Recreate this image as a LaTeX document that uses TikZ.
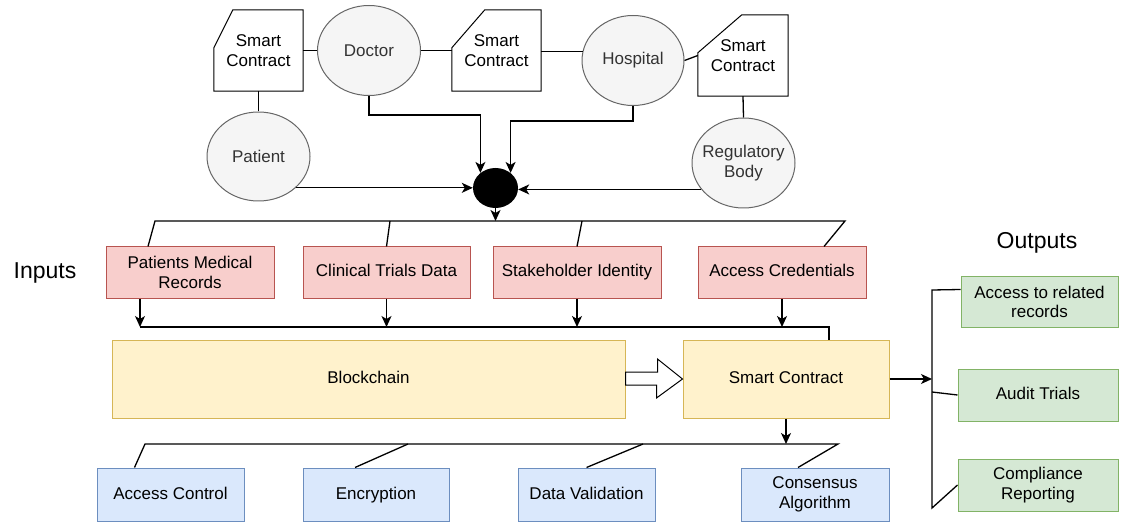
\documentclass[tikz,border=0pt]{standalone}
\usepackage{fontspec}
\setmainfont{Liberation Sans}
\usetikzlibrary{arrows.meta,shapes.geometric}

\definecolor{inFill}{HTML}{F8CECC}
\definecolor{inLine}{HTML}{B85450}
\definecolor{chFill}{HTML}{FFF2CC}
\definecolor{chLine}{HTML}{D6B656}
\definecolor{tlFill}{HTML}{DAE8FC}
\definecolor{tlLine}{HTML}{6C8EBF}
\definecolor{outFill}{HTML}{D5E8D4}
\definecolor{outLine}{HTML}{82B366}
\definecolor{actFill}{HTML}{F5F5F5}
\definecolor{actLine}{HTML}{666666}

% outline of a contract card, top left corner cut off
\newcommand{\cardline}[2]{%
  \draw[line width=1pt] ([yshift=-38pt]#1.north west) -- ([xshift=#2]#1.north west)
    -- (#1.north east) -- (#1.south east) -- (#1.south west) -- cycle;}

\begin{document}
\begin{tikzpicture}[x=1pt, y=-1pt, >={Stealth[length=11pt,width=10pt,inset=3pt]},
  every node/.style={font=\fontsize{17}{19.5}\selectfont, align=center, inner sep=2pt},
  oneline/.style={text height=12.5pt, text depth=3.5pt},
  link/.style={line width=1.3pt},
  card/.style={minimum width=89pt, minimum height=81pt},
  actor/.style={ellipse, draw=actLine, fill=actFill, line width=1pt, text=black!80,
    inner xsep=-8pt, inner ysep=0pt, minimum width=103pt, minimum height=90pt},
  hub/.style={ellipse, fill=black, minimum width=45pt, minimum height=40pt, inner sep=0pt},
  inbox/.style={draw=inLine, fill=inFill, line width=1pt, minimum width=168pt, minimum height=51pt},
  corebox/.style={draw=chLine, fill=chFill, line width=1pt, minimum height=78pt, oneline},
  toolbox/.style={draw=tlLine, fill=tlFill, line width=1pt, minimum height=53pt},
  outbox/.style={draw=outLine, fill=outFill, line width=1pt, minimum width=160pt, minimum height=52pt},
  side/.style={font=\fontsize{23}{26}\selectfont}]
  \useasboundingbox (0,0) rectangle (1123,526);

  % stakeholders and their contracts
  \node[card] (sc1) at (258.5,50.5) {Smart\\Contract};
  \node[actor] (doc) at (369,50.5) {Doctor};
  \node[card] (sc2) at (496.5,50.5) {Smart\\Contract};
  \node[actor, minimum width=102pt] (hosp) at (633,60.5) {Hospital};
  \node[card, minimum width=90pt] (sc3) at (743,55.5) {Smart\\Contract};
  \node[actor, minimum height=89pt] (pat) at (258.5,156.5) {Patient};
  \node[actor] (reg) at (743.5,163) {Regulatory\\Body};
  \node[hub] (hub) at (495.5,188) {};
  \cardline{sc1}{19pt}
  \cardline{sc2}{33pt}
  \cardline{sc3}{44pt}

  \draw[link] (sc1.east) -- (doc.west);
  \draw[link] (doc.east) -- (sc2.west);
  \draw[link] (sc2.east |- hosp.170) -- (hosp.170);
  \draw[link] (hosp.east) -- (sc3.west);
  \draw[link] (sc1.south) -- (pat.north);
  \draw[link] (sc3.south) -- (reg.north);

  \draw[link,->] (doc.south) -- ++(0,19) -| (hub.135);
  \draw[link,->] (hosp.south) -- ++(0,15) -| (hub.45);
  \draw[link,->] (pat.-40) -- (pat.-40 -| hub.west);
  \draw[link,->] (reg.212) -- (reg.212 -| hub.east);

  % inputs
  \node[side] (inlbl) at (45,273) {Inputs};
  \node[inbox] (pmr) at (190,272.5) {Patients Medical\\Records};
  \node[inbox, oneline, minimum width=167pt] (ctd) at (386.5,272.5) {Clinical Trials Data};
  \node[inbox, oneline] (sid) at (577,272.5) {Stakeholder Identity};
  \node[inbox, oneline] (acr) at (782,272.5) {Access Credentials};

  \coordinate (inL) at (155,221);
  \coordinate (inR) at (845,221);
  \coordinate (in2) at (390,221);
  \coordinate (in3) at (582,221);
  \draw[link,->] (hub.south) -- (hub.south |- inL);
  \draw[link] ([xshift=-42pt]pmr.north) -- (inL) -- (inR) -- ([xshift=42pt]acr.north);
  \draw[link] (ctd.north) -- (in2);
  \draw[link] (sid.north) -- (in3);

  % blockchain and the contract layer
  \node[corebox, minimum width=513pt] (chain) at (368.5,379) {Blockchain};
  \node[corebox, minimum width=206pt] (smart) at (786,379) {Smart Contract};

  \coordinate (chL) at (140,327);
  \coordinate (chR) at (829,327);
  \draw[link,->] ([xshift=-50pt]pmr.south) -- (chL);
  \draw[link,->] (ctd.south) -- (ctd.south |- chL);
  \draw[link,->] (sid.south) -- (sid.south |- chL);
  \draw[link,->] (acr.south) -- (acr.south |- chL);
  \draw[link] (chL) -- (chR) -- (chR |- smart.north);

  \draw[line width=1pt, fill=white] ([yshift=7pt]chain.east) -- ++(32,0) -- ++(0,-13)
    -- (smart.west) -- ++(-26,19) -- ++(0,-13) -- ([yshift=-6pt]chain.east) -- cycle;

  % outputs
  \node[side] (outlbl) at (1037,243) {Outputs};
  \node[outbox, minimum width=157pt, minimum height=50pt] (rel) at (1039.5,302) {Access to related\\records};
  \node[outbox, oneline] (aud) at (1038,395) {Audit Trials};
  \node[outbox] (comp) at (1038,485) {Compliance\\Reporting};

  \coordinate (outT) at (932,290);
  \coordinate (outB) at (932,508);
  \coordinate (out2) at (932,392);
  \draw[link,->] (smart.east) -- (smart.east -| outT);
  \draw[link] ([yshift=-13pt]rel.north west) -- (outT) -- (outB) -- (comp.west);
  \draw[link] (out2) -- (aud.west);

  % security functions
  \node[toolbox, oneline, minimum width=147pt] (acc) at (170.5,494.5) {Access Control};
  \node[toolbox, oneline, minimum width=146pt] (enc) at (376,494.5) {Encryption};
  \node[toolbox, oneline, minimum width=137pt] (dval) at (586.5,494.5) {Data Validation};
  \node[toolbox, minimum width=148pt] (cons) at (815,494.5) {Consensus\\Algorithm};

  \coordinate (tlL) at (145,444);
  \coordinate (tlR) at (838,444);
  \coordinate (tl2) at (408,444);
  \coordinate (tl3) at (643,444);
  \draw[link,->] (smart.south) -- (smart.south |- tlL);
  \draw[link] ([xshift=-36pt]acc.north) -- (tlL) -- (tlR) -- ([xshift=-17pt]cons.north);
  \draw[link] ([xshift=-21pt]enc.north) -- (tl2);
  \draw[link] (dval.north) -- (tl3);
\end{tikzpicture}
\end{document}
